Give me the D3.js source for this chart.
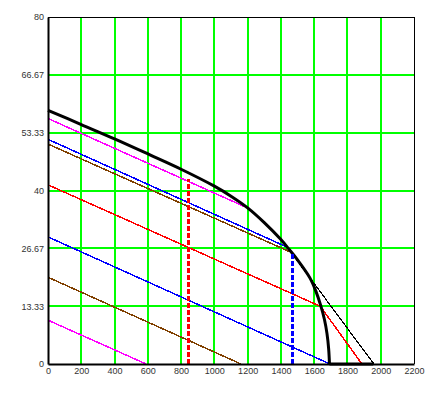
<!DOCTYPE html>
<html>
<head>
<meta charset="utf-8">
<script src="https://cdn.jsdelivr.net/npm/d3@7"></script>
<style>
  html, body { margin: 0; padding: 0; background: #fff; }
  svg { display: block; }
  .tick text { font-family: "Liberation Sans", Arial, sans-serif; font-size: 9px; fill: #333; }
</style>
</head>
<body>
<svg id="chart" width="446" height="393"></svg>
<script>
// ---- data ----
const xTicks = [0, 200, 400, 600, 800, 1000, 1200, 1400, 1600, 1800, 2000, 2200];
const yTicks = [0, 13.33, 26.67, 40, 53.33, 66.67, 80];
const yTickLabels = ["0", "13.33", "26.67", "40", "53.33", "66.67", "80"];

// thick black envelope curve
const envelope = [[0,58.5],[200,55.2],[400,51.9],[613,48.2],[800,44.9],[1000,41.0],[1100,38.7],[1200,36.0],
  [1300,32.6],[1400,28.7],[1450,26.4],[1500,24.0],[1575,19.8],[1610,16.8],[1640,13.4],[1662,10.2],
  [1677,7.0],[1687,3.5],[1692,0]];
const envelopeBase = [[1692,0],[1955,0]];
// thin black line
const thinBlack = [[1440,26.8],[1959,0]];
// upper lines (end on the envelope)
const magentaUpper = [[0,56.6],[1204,35.9]];
const blueUpper = [[0,51.8],[1434,27.0]];
const brownUpper = [[0,50.7],[1464,25.7]];
const redLine = [[0,41.3],[1637,13.3],[1887,0]];
// lower lines
const blueLower = [[0,29.3],[1695,0]];
const brownLower = [[0,20.0],[1160,0]];
const magentaLower = [[0,10.1],[590,0]];
// dashed verticals
const redDashed = [[845,0],[845,42.6]];
const blueDashed = [[1470,0],[1470,25.3]];

// ---- layout ----
const svg = d3.select("#chart");
const W = 446, H = 393;
const m = {left: 48, top: 17, right: 32, bottom: 29};
const x = d3.scaleLinear().domain([0, 2200]).range([m.left, W - m.right]);
const y = d3.scaleLinear().domain([0, 80]).range([H - m.bottom, m.top]);

svg.append("rect").attr("width", W).attr("height", H).attr("fill", "#fff");

// grid
const g = svg.append("g");
g.selectAll(".vg").data(xTicks.filter(d => d > 0 && d < 2200)).enter().append("line")
  .attr("x1", d => Math.round(x(d))).attr("x2", d => Math.round(x(d)))
  .attr("y1", y(0)).attr("y2", y(80))
  .attr("stroke", "#00ff00").attr("stroke-width", 2).attr("shape-rendering", "crispEdges");
g.selectAll(".hg").data(yTicks.filter(d => d > 0 && d < 80)).enter().append("line")
  .attr("y1", d => Math.round(y(d))).attr("y2", d => Math.round(y(d)))
  .attr("x1", x(0)).attr("x2", x(2200))
  .attr("stroke", "#00ff00").attr("stroke-width", 2).attr("shape-rendering", "crispEdges");

// border top/right
svg.append("line").attr("x1", x(0)).attr("x2", x(2200) + 1).attr("y1", Math.round(y(80)) + 0.5).attr("y2", Math.round(y(80)) + 0.5)
  .attr("stroke", "#000").attr("stroke-width", 1.5).attr("shape-rendering", "crispEdges");
svg.append("line").attr("x1", Math.round(x(2200)) + 0.5).attr("x2", Math.round(x(2200)) + 0.5).attr("y1", y(0)).attr("y2", y(80))
  .attr("stroke", "#000").attr("stroke-width", 1.5).attr("shape-rendering", "crispEdges");

const line = d3.line().x(d => x(d[0])).y(d => y(d[1]));
function draw(data, color, width, dash, crisp, curve) {
  const gen = curve ? d3.line().x(d => x(d[0])).y(d => y(d[1])).curve(curve) : line;
  const p = svg.append("path").datum(data).attr("d", gen)
    .attr("fill", "none").attr("stroke", color).attr("stroke-width", width)
    .attr("stroke-linejoin", "round");
  if (dash) p.attr("stroke-dasharray", dash);
  if (crisp) p.attr("shape-rendering", "crispEdges");
  return p;
}

draw(magentaLower, "#ff00ff", 1.5, null, true);
draw(brownLower, "#804000", 1.5, null, true);
draw(blueLower, "#0000ff", 1.5, null, true);
draw(redLine, "#ff0000", 1.5, null, true);
draw(brownUpper, "#804000", 1.5, null, true);
draw(blueUpper, "#0000ff", 1.5, null, true);
draw(magentaUpper, "#ff00ff", 1.5, null, true);
draw(thinBlack, "#000", 1.2, null, true);
draw(envelope, "#000", 3, null, false, d3.curveCatmullRom.alpha(0.5));
draw(envelopeBase, "#000", 3);
draw(redDashed, "#ff0000", 3, "5,2", true);
draw(blueDashed, "#0000ff", 3, "5,2", true);

// axes
const xAxis = d3.axisBottom(x).tickValues(xTicks).tickSize(0).tickPadding(4).tickFormat(d3.format("d"));
const yAxis = d3.axisLeft(y).tickValues(yTicks).tickSize(0).tickPadding(4).tickFormat((d, i) => yTickLabels[i]);
const gx = svg.append("g").attr("transform", `translate(0,${y(0)})`).call(xAxis);
const gy = svg.append("g").attr("transform", `translate(${x(0)},0)`).call(yAxis);
[gx, gy].forEach(a => a.select(".domain").attr("stroke", "#000").attr("stroke-width", 2));
</script>
</body>
</html>
